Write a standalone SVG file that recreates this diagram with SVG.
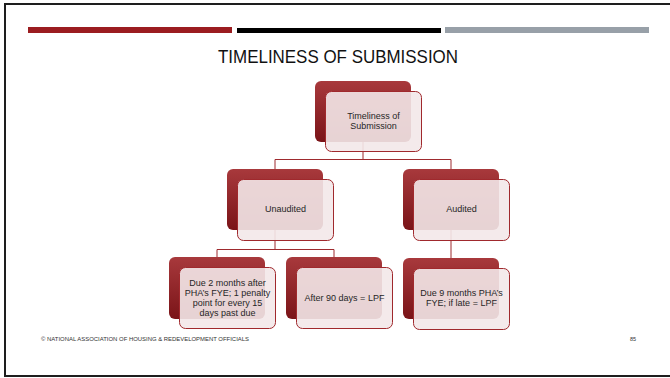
<svg xmlns="http://www.w3.org/2000/svg" width="670" height="378" viewBox="0 0 670 378">
<style>
  .back { fill: url(#backGrad); }
  .front { fill: #f3e8e9; fill-opacity: 0.9; stroke: #a0292d; stroke-width: 1; }
  .lbl { font-family: "Liberation Sans", Arial, sans-serif; font-size: 9px; fill: #262626; text-anchor: middle; }
  .conn { stroke: #9e2a2e; stroke-width: 1; fill: none; }
  .foot { font-family: "Liberation Sans", Arial, sans-serif; font-size: 5.5px; fill: #333; }
</style>
<defs>
  <linearGradient id="backGrad" x1="0" y1="0" x2="0" y2="1">
    <stop offset="0" stop-color="#a8393c"/>
    <stop offset="1" stop-color="#7a1418"/>
  </linearGradient>
</defs>
<rect x="0" y="0" width="670" height="378" fill="#ffffff"/>
<rect x="5" y="4" width="667" height="372" fill="none" stroke="#1e1e1e" stroke-width="2"/>
<g id="header">
  <rect x="28" y="27" width="204" height="6" fill="#9b1d20"/>
  <rect x="237" y="28" width="204" height="5" fill="#000000"/>
  <rect x="445" y="27" width="204" height="6" fill="#98a0a8"/>
  <text x="338" y="63" font-family="'Liberation Sans', Arial, sans-serif" font-size="18" fill="#111" text-anchor="middle" textLength="240" lengthAdjust="spacingAndGlyphs">TIMELINESS OF SUBMISSION</text>
</g>
<g id="connectors">
  <path class="conn" d="M363 142 V159.5 M275 159.5 H451 M275 159.5 V249.5 M451 159.5 V258 M217 249.5 H334 M217 249.5 V258 M334 249.5 V258"/>
</g>
<g id="node-timeliness">
  <rect class="back" x="315" y="81" width="96" height="61" rx="6"/>
  <rect class="front" x="325.5" y="91.5" width="96" height="60" rx="6"/>
  <text class="lbl" x="373.5" y="119">Timeliness of</text>
  <text class="lbl" x="373.5" y="129">Submission</text>
</g>
<g id="node-unaudited">
  <rect class="back" x="227" y="169" width="96" height="61" rx="6"/>
  <rect class="front" x="237.5" y="179.5" width="96" height="61" rx="6"/>
  <text class="lbl" x="285.5" y="212">Unaudited</text>
</g>
<g id="node-audited">
  <rect class="back" x="403" y="169" width="96" height="61" rx="6"/>
  <rect class="front" x="413.5" y="179.5" width="96" height="61" rx="6"/>
  <text class="lbl" x="461.5" y="212">Audited</text>
</g>
<g id="node-due2">
  <rect class="back" x="169" y="257" width="96" height="62" rx="6"/>
  <rect class="front" x="179.5" y="267.5" width="96" height="61" rx="6"/>
  <text class="lbl" x="227.5" y="286">Due 2 months after</text>
  <text class="lbl" x="227.5" y="296">PHA’s FYE; 1 penalty</text>
  <text class="lbl" x="227.5" y="306">point for every 15</text>
  <text class="lbl" x="227.5" y="316">days past due</text>
</g>
<g id="node-after90">
  <rect class="back" x="286" y="257" width="96" height="62" rx="6"/>
  <rect class="front" x="296.5" y="267.5" width="96" height="61" rx="6"/>
  <text class="lbl" x="344.5" y="301">After 90 days = LPF</text>
</g>
<g id="node-due9">
  <rect class="back" x="403" y="258" width="96" height="61" rx="6"/>
  <rect class="front" x="413.5" y="268.5" width="96" height="61" rx="6"/>
  <text class="lbl" x="461.5" y="296">Due 9 months PHA’s</text>
  <text class="lbl" x="461.5" y="306">FYE; if late = LPF</text>
</g>
<g id="footer">
  <text class="foot" x="41" y="341" textLength="208" lengthAdjust="spacingAndGlyphs">© NATIONAL ASSOCIATION OF HOUSING &amp; REDEVELOPMENT OFFICIALS</text>
  <text class="foot" x="630" y="341">85</text>
</g>
</svg>
